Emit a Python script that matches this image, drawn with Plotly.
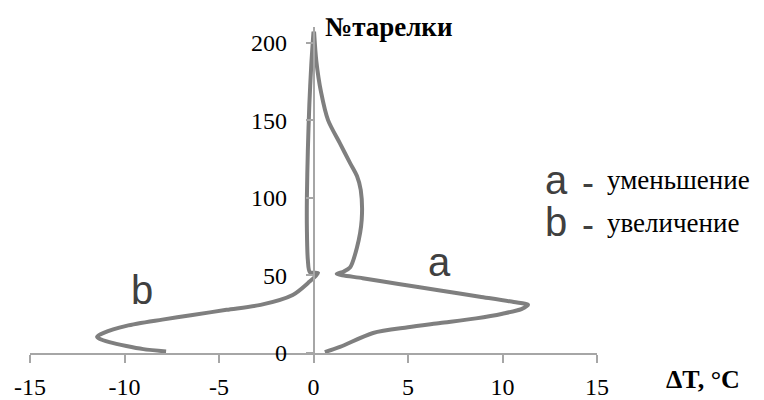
import plotly.graph_objects as go

# Curve a (уменьшение)
a_dT = [0.6, 1.4, 3.15, 5.0, 6.7, 8.6, 10.0, 11.0, 11.35, 10.6, 8.8, 6.7, 4.5, 2.6, 1.23, 1.6, 1.93, 2.3, 2.55, 2.5, 2.3, 1.93, 1.4, 0.77, 0.4, 0.15, 0.03]
a_n = [0.6, 3.9, 12.9, 16.6, 19.3, 22.3, 25.3, 28.3, 31.0, 32.8, 36.3, 40.3, 44.4, 48.2, 51.0, 52.5, 55.0, 68.0, 85.8, 105.0, 114.0, 122.5, 135.0, 150.0, 168.0, 188.0, 207.0]

# Curve b (увеличение)
b_dT = [-7.8, -9.0, -9.9, -10.8, -11.3, -11.45, -11.1, -9.9, -8.0, -6.4, -4.6, -2.8, -1.1, -0.3, 0.24, -0.19, -0.3, -0.35, -0.35, -0.3, -0.22, -0.12, 0.0]
b_n = [1.0, 2.5, 4.5, 7.0, 9.0, 10.5, 13.0, 17.5, 21.5, 24.5, 27.8, 31.0, 37.4, 45.0, 51.5, 52.0, 60.0, 80.0, 100.0, 130.0, 160.0, 185.0, 207.0]

x_ticks = [-15, -10, -5, 0, 5, 10, 15]
y_ticks = [0, 50, 100, 150, 200]

line_color = "#7f7f7f"
axis_color = "#a6a6a6"
serif = "Liberation Serif"
sans = "Liberation Sans"

# page has an 8px body margin; figure sized so it fills the 764x400 window
OFF = 8
W, H = 764 - OFF, 400 - OFF
L, R, T, B = 30 - OFF, W - (597 - OFF), 27 - OFF, H - (353 - OFF)
PW, PH = W - L - R, H - T - B

fig = go.Figure()
fig.add_trace(go.Scatter(x=a_dT, y=a_n, mode="lines", line=dict(color=line_color, width=4, shape="spline", smoothing=0.8), showlegend=False, hoverinfo="skip", cliponaxis=False))
fig.add_trace(go.Scatter(x=b_dT, y=b_n, mode="lines", line=dict(color=line_color, width=4, shape="spline", smoothing=0.8), showlegend=False, hoverinfo="skip", cliponaxis=False))

fig.update_layout(
    width=W, height=H,
    margin=dict(l=L, r=R, t=T, b=B, autoexpand=False),
    paper_bgcolor="white", plot_bgcolor="white",
    font=dict(family=serif, size=24, color="black"),
    xaxis=dict(range=[-15, 15], tickvals=x_ticks, ticktext=[str(v) for v in x_ticks],
               showgrid=False, zeroline=False, showline=True, linecolor=axis_color, linewidth=1.5,
               ticks="outside", ticklen=8, tickcolor=axis_color, tickwidth=1.5, automargin=False,
               tickfont=dict(family=serif, size=24, color="black"), ticklabelstandoff=3),
    yaxis=dict(range=[0, 210], tickvals=y_ticks, ticktext=[str(v) for v in y_ticks],
               anchor="free", position=0.5, automargin=False,
               showgrid=False, zeroline=False, showline=True, linecolor=axis_color, linewidth=1.5,
               ticks="outside", ticklen=7, tickcolor=axis_color, tickwidth=1.5,
               tickfont=dict(family=serif, size=24, color="black"), ticklabelstandoff=14),
)

def add_text(px, py, text, font, xanchor="center"):
    # px, py: page pixel coordinates
    x = (px - OFF - L) / PW
    y = (H - B - (py - OFF)) / PH
    fig.add_annotation(x=x, y=y, xref="paper", yref="paper", text=text, showarrow=False,
                       font=font, xanchor=xanchor, yanchor="middle")

add_text(389, 27, "<b>№тарелки</b>", dict(family=serif, size=27, color="black"))
add_text(703, 379, "<b>ΔT, °C</b>", dict(family=serif, size=26, color="black"))
add_text(439, 262, "a", dict(family=sans, size=40, color="#404040"))
add_text(142, 290, "b", dict(family=sans, size=40, color="#404040"))

add_text(556, 180, "a", dict(family=sans, size=40, color="#404040"))
add_text(588, 182, "-", dict(family=sans, size=36, color="#404040"))
add_text(605, 180, "уменьшение", dict(family=serif, size=27, color="black"), xanchor="left")
add_text(556, 222, "b", dict(family=sans, size=40, color="#404040"))
add_text(588, 224, "-", dict(family=sans, size=36, color="#404040"))
add_text(605, 223, "увеличение", dict(family=serif, size=27, color="black"), xanchor="left")

fig.write_html("out.html")
